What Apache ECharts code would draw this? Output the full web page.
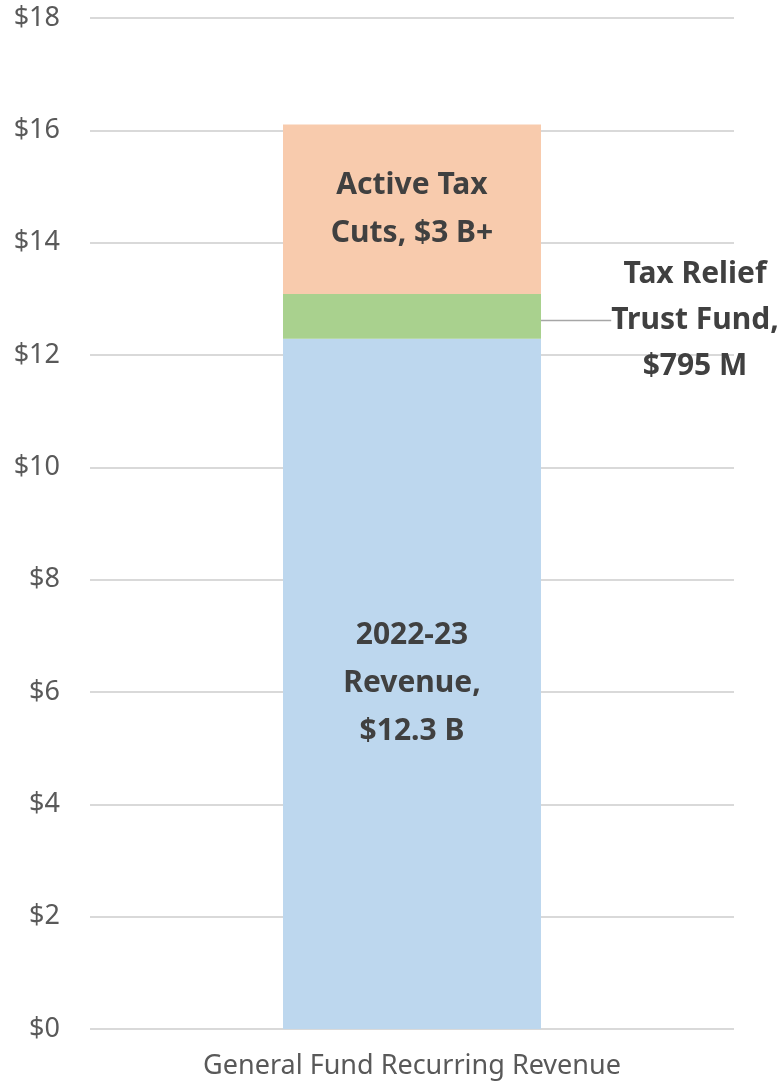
<!DOCTYPE html>
<html>
<head>
<meta charset="utf-8">
<script src="https://cdn.jsdelivr.net/npm/echarts@6/dist/echarts.min.js"></script>
<style>
  html, body { margin: 0; padding: 0; background: #fff; }
  #chart { width: 783px; height: 1084px; }
</style>
</head>
<body>
<div id="chart"></div>
<script>
// values in billions of dollars
const categories = ['General Fund Recurring Revenue'];
const revenue = [12.29];
const trustFund = [0.795];
const taxCuts = [3.02];
const yTicks = { min: 0, max: 18, interval: 2 };

const labelFont = 'Noto Sans';
const labelColor = '#404040';

const chart = echarts.init(document.getElementById('chart'));

chart.setOption({
  animation: false,
  grid: { left: 90, right: 49, top: 18, bottom: 55 },
  xAxis: {
    type: 'category',
    data: categories,
    axisLine: { show: false },
    axisTick: { show: false },
    axisLabel: {
      color: '#595959',
      fontFamily: labelFont,
      fontSize: 27,
      margin: 24
    }
  },
  yAxis: {
    type: 'value',
    min: yTicks.min,
    max: yTicks.max,
    interval: yTicks.interval,
    axisLine: { show: false },
    axisTick: { show: false },
    axisLabel: {
      color: '#595959',
      fontFamily: labelFont,
      fontSize: 27,
      margin: 30,
      formatter: v => '$' + v
    },
    splitLine: { lineStyle: { color: '#d9d9d9', width: 2 } }
  },
  series: [
    {
      name: '2022-23 Revenue',
      type: 'bar',
      stack: 'total',
      barWidth: 258,
      data: revenue,
      itemStyle: { color: '#bdd7ee' },
      label: {
        show: true,
        position: 'inside',
        formatter: '2022-23\nRevenue,\n$12.3 B',
        fontFamily: labelFont,
        fontWeight: 'bold',
        fontSize: 30,
        lineHeight: 48,
        color: labelColor
      }
    },
    {
      name: 'Tax Relief Trust Fund',
      type: 'bar',
      stack: 'total',
      data: trustFund,
      itemStyle: { color: '#a9d18e' },
      label: {
        show: true,
        position: 'inside',
        formatter: 'Tax Relief\nTrust Fund,\n$795 M',
        fontFamily: labelFont,
        fontWeight: 'bold',
        fontSize: 30,
        lineHeight: 46,
        color: labelColor
      },
      labelLayout: { dx: 283, dy: 4 },
      labelLine: { show: true, lineStyle: { color: '#a6a6a6', width: 1.5 } }
    },
    {
      name: 'Active Tax Cuts',
      type: 'bar',
      stack: 'total',
      data: taxCuts,
      itemStyle: { color: '#f8cbad' },
      label: {
        show: true,
        position: 'inside',
        formatter: 'Active Tax\nCuts, $3 B+',
        fontFamily: labelFont,
        fontWeight: 'bold',
        fontSize: 30,
        lineHeight: 48,
        color: labelColor
      }
    }
  ]
});
</script>
</body>
</html>
